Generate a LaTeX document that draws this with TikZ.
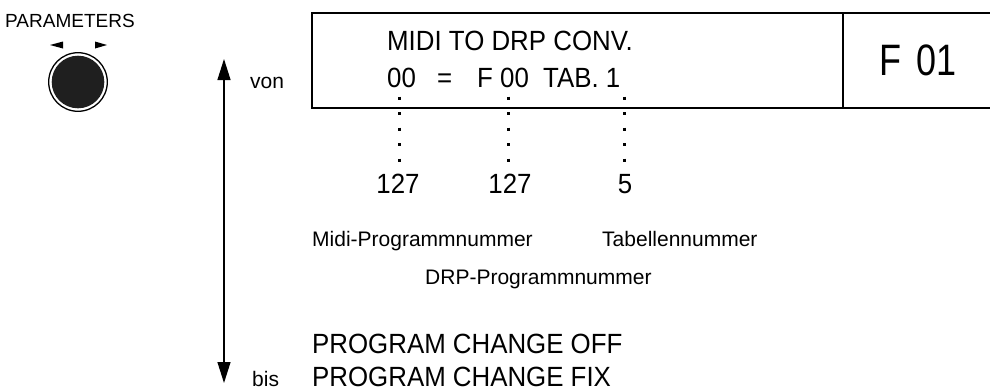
\documentclass[tikz,border=0pt]{standalone}
\usepackage{fontspec}
\setmainfont{Liberation Sans}
\newfontfamily\condfont[FakeStretch=0.93]{Liberation Sans}
\usetikzlibrary{arrows.meta}
\begin{document}
\begin{tikzpicture}[x=1pt,y=-1pt,
  lbl/.style={inner sep=0pt, anchor=base west, font=\fontsize{21}{24}\selectfont},
  lcd/.style={inner sep=0pt, anchor=base west, font=\condfont\fontsize{27.8}{32}\selectfont},
  numc/.style={inner sep=0pt, anchor=base, font=\condfont\fontsize{27.8}{32}\selectfont},
  frame/.style={line width=1.4pt},
  dotline/.style={line width=3pt, dash pattern=on 3pt off 12.5pt},
  bigarrow/.style={line width=1.3pt, {Triangle[width=13pt,length=21pt]}-{Triangle[width=13pt,length=21pt]}}
]
\useasboundingbox (0,0) rectangle (990,391);

% knob
\node[inner sep=0pt, anchor=base west, font=\fontsize{19}{22}\selectfont] (param) at (5,27) {PARAMETERS};
\fill (50,45) -- (63,41.5) -- (63,48.5) -- cycle;
\fill (107,45) -- (95,41.5) -- (95,48.5) -- cycle;
\draw[line width=1.3pt] (78,82) circle[radius=29.3];
\fill[black!88] (78,82) circle[radius=26.3];

% range arrow
\coordinate (atop) at (224,59);
\coordinate (abot) at (224,383);
\draw[bigarrow] (atop) -- (abot);
\node[lbl] (von) at (250,88) {von};
\node[lbl] (bis) at (252,386) {bis};

% display frame
\draw[frame] (990,13) -- (312,13) -- (312,108) -- (990,108);
\draw[frame] (843,13) -- (843,108);
\node[inner sep=0pt, anchor=base, font=\condfont\fontsize{44}{50}\selectfont] (fnum) at (918,75) {\scalebox{0.88}[1]{F\hspace{6pt} 01}};

\node[lcd] (title) at (387,50) {MIDI TO DRP CONV.};
\node[lcd] (v1) at (387,87) {00};
\node[lcd] (eq) at (437,87) {=};
\node[lcd] (v2) at (477,87) {F 00};
\node[lcd] (v3) at (543,87) {TAB. 1};

% ranges
\node[numc] (m1) at (398,193) {127};
\node[numc] (m2) at (510,193) {127};
\node[numc] (m3) at (625,193) {5};

\coordinate (d1a) at (399,96.5); \coordinate (d1b) at (399,161.5);
\coordinate (d2a) at (508,96.5); \coordinate (d2b) at (508,161.5);
\coordinate (d3a) at (624,96.5); \coordinate (d3b) at (624,161.5);
\draw[dotline] (d1a) -- (d1b);
\draw[dotline] (d2a) -- (d2b);
\draw[dotline] (d3a) -- (d3b);

% labels
\node[lbl] (midi) at (312,246.5) {Midi-Programmnummer};
\node[lbl] (tab) at (602,246.5) {Tabellennummer};
\node[lbl] (drp) at (425,284) {DRP-Programmnummer};

\node[lcd] (off) at (312,353) {PROGRAM CHANGE OFF};
\node[lcd] (fix) at (312,386) {PROGRAM CHANGE FIX};
\end{tikzpicture}
\end{document}
